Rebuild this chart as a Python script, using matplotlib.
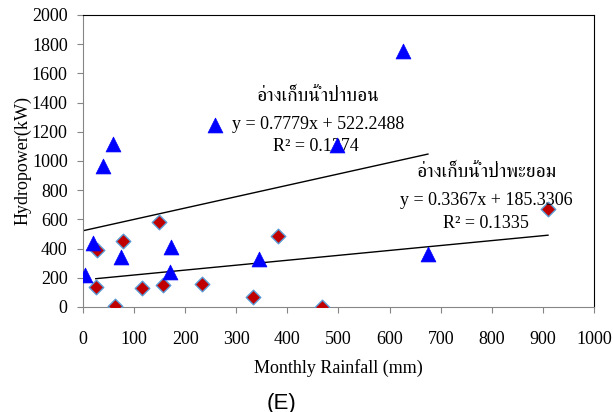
import numpy as np
import matplotlib
matplotlib.use("Agg")
import matplotlib.pyplot as plt
from matplotlib import font_manager
from matplotlib.ft2font import FT2Font

# ข้อมูลรายเดือน: ปริมาณฝน (mm) กับกำลังผลิตไฟฟ้า (kW)
rain_pabon = [3, 20, 39, 59, 74, 172, 170, 258, 345, 497, 626, 675]
power_pabon = [220, 440, 965, 1115, 340, 410, 240, 1245, 328, 1110, 1750, 360]

rain_payom = [27, 25, 63, 78, 115, 149, 157, 232, 382, 332, 468, 910]
power_payom = [390, 140, 5, 455, 130, 583, 148, 155, 486, 68, 0, 670]

# สมการเส้นแนวโน้ม (slope, intercept, R2)
fit_pabon = (0.7779, 522.2488, 0.1374)
fit_payom = (0.3367, 185.3306, 0.1335)

name_pabon = "อ่างเก็บน้ำป่าบอน"
name_payom = "อ่างเก็บน้ำป่าพะยอม"


def find_thai_font():
    # หาฟอนต์ที่มีตัวอักษรไทย
    names = []
    for f in font_manager.fontManager.ttflist:
        try:
            if 0x0E01 in FT2Font(f.fname).get_charmap():
                names.append(f.name)
        except Exception:
            pass
    for n in names:
        if "Serif" in n:
            return n
    if names:
        return names[0]
    return "DejaVu Sans"


thai = find_thai_font()
serif = "Liberation Serif"
fs = 13

fig = plt.figure(figsize=(6.13, 4.12), dpi=100)
ax = fig.add_axes([0.1354, 0.2549, 0.969 - 0.1354, 0.9636 - 0.2549])

ax.scatter(rain_payom, power_payom, marker="D", s=55, color="#C00000",
           edgecolors="#5B9BD5", linewidths=1.0, zorder=3)
ax.scatter(rain_pabon, power_pabon, marker="^", s=115, color="#0000FF",
           edgecolors="#0000FF", linewidths=0.5, zorder=4)

# เส้นแนวโน้มจากค่าน้อยสุดถึงค่ามากสุด
for xs, (m, c, r2) in [(rain_pabon, fit_pabon), (rain_payom, fit_payom)]:
    xx = np.array([min(xs), max(xs)])
    ax.plot(xx, m * xx + c, color="black", lw=1.0, zorder=2)

ax.set_xlim(0, 1000)
ax.set_ylim(0, 2000)
ax.set_xticks(np.arange(0, 1001, 100))
ax.set_yticks(np.arange(0, 2001, 200))

for lab in ax.get_xticklabels() + ax.get_yticklabels():
    lab.set_fontfamily(serif)
    lab.set_fontsize(fs)
ax.tick_params(axis="both", direction="out", length=4, color="#868686")
ax.tick_params(axis="x", pad=13)
ax.tick_params(axis="y", pad=7)

ax.spines["left"].set_color("#868686")
ax.spines["bottom"].set_color("#868686")
ax.spines["right"].set_color("black")
ax.spines["top"].set_color("black")

ax.set_xlabel("Monthly Rainfall (mm)", fontfamily=serif, fontsize=fs, labelpad=8)
ax.set_ylabel("Hydropower(kW)", fontfamily=serif, fontsize=fs, labelpad=0)

# ป้ายสมการ
ax.text(460, 1445, name_pabon, family=[thai, "DejaVu Sans"], fontsize=14,
        ha="center", va="center")
ax.text(460, 1252, "y = %.4fx + %.4f" % fit_pabon[:2], family=serif, fontsize=fs,
        ha="center", va="center")
ax.text(455, 1102, "R² = %.4f" % fit_pabon[2], family=serif, fontsize=fs,
        ha="center", va="center")

ax.text(790, 922, name_payom, family=[thai, "DejaVu Sans"], fontsize=14,
        ha="center", va="center")
ax.text(790, 727, "y = %.4fx + %.4f" % fit_payom[:2], family=serif, fontsize=fs,
        ha="center", va="center")
ax.text(788, 575, "R² = %.4f" % fit_payom[2], family=serif, fontsize=fs,
        ha="center", va="center")

fig.text(282 / 613, 1 - 403 / 412, "(E)", family="Liberation Sans", fontsize=16,
         ha="center", va="center")

fig.savefig("out.png", dpi=100)
